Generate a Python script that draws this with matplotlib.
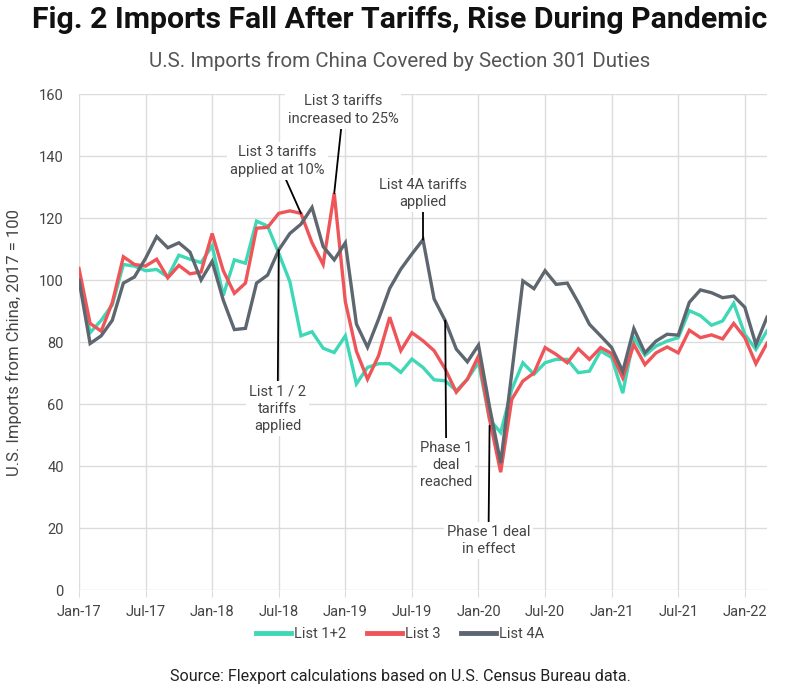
import matplotlib
matplotlib.use("Agg")
import matplotlib.pyplot as plt
from matplotlib.lines import Line2D

plt.rcParams['font.family'] = ['Roboto', 'DejaVu Sans']

# ---------------- data ----------------
tick_labels = ["Jan-17", "Jul-17", "Jan-18", "Jul-18", "Jan-19", "Jul-19",
               "Jan-20", "Jul-20", "Jan-21", "Jul-21", "Jan-22"]
series_names = ["List 1+2", "List 3", "List 4A"]

list12 = [100, 83, 87, 92, 105, 104.5, 103, 103.4, 101, 108, 106.7, 105.6,
          111, 95, 106.5, 105.4, 119, 117.4, 108.6, 99.5, 82, 83.3, 78, 76.6,
          82, 66.5, 71.8, 73, 73, 70.2, 74.5, 71.8, 67.8, 67.5, 64.3, 68,
          73.4, 55, 50.8, 64.7, 73.3, 69.6, 73.3, 74.4, 74.4, 70.1, 70.6, 77.1,
          75, 63.5, 81.4, 75.7, 78.7, 80.3, 81.4, 90.1, 88.5, 85.4, 86.8, 92.5,
          82.5, 77.6, 83.6]
list3 = [103.7, 86, 83.5, 92.7, 107.5, 105, 104.5, 106.7, 100.7, 104.7, 102, 102.6,
         115, 103, 95.7, 99, 116.7, 117, 121.5, 122.3, 121.5, 112, 105, 128,
         93, 77, 68, 75.6, 88, 77.2, 83, 80.4, 77.2, 71.3, 63.8, 68,
         75.5, 55, 38, 61.5, 67.4, 70, 78.2, 76, 73.3, 77.8, 74.4, 78.2,
         76.3, 68.4, 79.2, 72.7, 76.5, 78.4, 76.5, 83.8, 81.4, 82.3, 81, 86,
         81.4, 73, 79.6]
list4a = [100, 79.5, 82, 87, 99, 101, 107, 114, 110.4, 112, 109, 100,
          106, 93.5, 84, 84.4, 99, 101.6, 109.7, 115, 118, 123.4, 110.8, 106.5,
          112, 85.8, 78.3, 87.4, 97.3, 103.5, 108.4, 113, 93.9, 86.9, 77.7, 73.6,
          79, 59, 41, 70, 99.7, 97.2, 103, 98.6, 99, 92.7, 85.7, 82,
          78.2, 70.5, 84.3, 76.5, 80.3, 82.5, 82.2, 92.8, 96.8, 95.9, 94.3, 94.8,
          91.2, 79.2, 88]

# annotations: text, pointed month index / value, text month index / value
ann_texts = ["List 1 / 2\ntariffs\napplied",
             "List 3 tariffs\napplied at 10%",
             "List 3 tariffs\nincreased to 25%",
             "List 4A tariffs\napplied",
             "Phase 1\ndeal\nreached",
             "Phase 1 deal\nin effect"]
ann_point_x = [18, 20, 23, 31, 33, 37]
ann_point_y = [109.7, 121.5, 128, 113, 86.9, 53]
ann_text_x = [17.9, 17.9, 23.8, 31, 33.1, 36.9]
ann_text_y = [58.5, 138.4, 154.8, 128, 40.3, 16]

# ---------------- style ----------------
colors = ["#3fd8b6", "#ef5458", "#5e6670"]
grid_c = "#dcdcdc"
text_c = "#444444"

fig = plt.figure(figsize=(8, 6.93), dpi=100)
ax = fig.add_axes([79/800, 1-590/693, (767-79)/800, (590-94)/693])

x = list(range(len(list12)))
for vals, c, name in zip([list12, list3, list4a], colors, series_names):
    ax.plot(x, vals, color=c, lw=2.4, label=name, solid_joinstyle='miter', zorder=3)

ax.set_xlim(0, len(list12) - 1)
ax.set_ylim(0, 160)
ax.set_xticks(list(range(0, 61, 6)))
ax.set_xticklabels(tick_labels)
ax.set_yticks(list(range(0, 161, 20)))
ax.grid(True, color=grid_c, lw=1)
ax.set_axisbelow(True)
for s in ax.spines.values():
    s.set_visible(False)
ax.tick_params(axis='x', length=5, color=grid_c, labelsize=10.5, labelcolor=text_c, pad=6)
ax.tick_params(axis='y', length=0, labelsize=10.5, labelcolor=text_c, pad=11)
ax.set_ylabel("U.S. Imports from China, 2017 = 100", fontsize=12, color=text_c, labelpad=12)

for t, px, py, tx, ty in zip(ann_texts, ann_point_x, ann_point_y, ann_text_x, ann_text_y):
    ax.annotate(t, xy=(px, py), xytext=(tx, ty), ha='center', va='center',
                fontsize=10.5, color=text_c, linespacing=1.3,
                bbox=dict(boxstyle='square,pad=0.2', fc='white', ec='none'),
                arrowprops=dict(arrowstyle='-', color='black', lw=1.3,
                                shrinkA=0, shrinkB=0),
                zorder=5, annotation_clip=False)

fig.text(0.5, 1-20/693, "Fig. 2 Imports Fall After Tariffs, Rise During Pandemic",
         ha='center', va='center', fontsize=21.8, fontweight='bold', color='#111111')
fig.text(0.5, 1-61/693, "U.S. Imports from China Covered by Section 301 Duties",
         ha='center', va='center', fontsize=14.8, color='#555555')

handles = [Line2D([0], [0], color=c, lw=3.5) for c in colors]
fig.legend(handles, series_names, loc='center', bbox_to_anchor=(0.5, 1-634/693),
           ncol=3, frameon=False, fontsize=10.5, handlelength=2.4, handletextpad=0.2,
           columnspacing=1.4, labelcolor=text_c)

fig.text(0.5, 1-676/693, "Source: Flexport calculations based on U.S. Census Bureau data.",
         ha='center', va='center', fontsize=11.6, color='#222222')

fig.savefig("out.png", dpi=100)
